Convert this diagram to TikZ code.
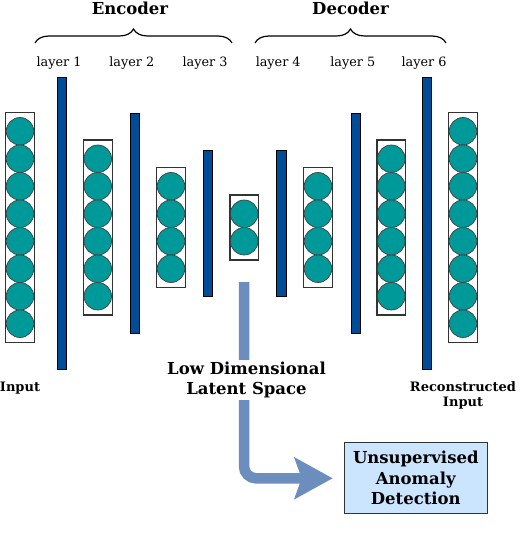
\documentclass[tikz,border=0pt]{standalone}
\usepackage{fontspec}
\setmainfont{DejaVu Serif}
\usetikzlibrary{arrows.meta,decorations.pathreplacing}
\definecolor{barblue}{RGB}{0,76,153}
\definecolor{unitteal}{RGB}{0,153,153}
\definecolor{flowblue}{RGB}{108,142,191}
\definecolor{detfill}{RGB}{204,229,255}
\begin{document}
\begin{tikzpicture}[x=1pt,y=-1pt,
  every node/.style={font=\fontsize{12.8}{15}\selectfont},
  bigtext/.style={font=\fontsize{16.5}{20.5}\selectfont\bfseries,align=center},
  midtext/.style={font=\fontsize{13}{15}\selectfont\bfseries,align=center},
  unitbox/.style={draw=black!80,line width=1.2pt,minimum width=28.6pt,inner sep=0pt},
  unit/.style={draw=black!75,line width=0.7pt,circle,fill=unitteal,minimum size=27.5pt,inner sep=0pt},
  weightbar/.style={draw=black,line width=0.6pt,fill=barblue,minimum width=9.5pt,inner sep=0pt},
  layerbrace/.style={decorate,decoration={brace,amplitude=14pt},line width=1.2pt}]
\useasboundingbox (0,0) rectangle (520,548);
% unit columns
\foreach \name/\x/\n in {in/20/8,h1/97.8/6,h2/171/4,lat/244.2/2,h3/318/4,h4/391.3/6,out/463/8} {
  \pgfmathsetmacro\boxh{\n*27.5+10}
  \node[unitbox,minimum height=\boxh pt] (\name) at (\x,227.5) {};
  \foreach \k in {1,...,\n} {
    \pgfmathsetmacro\yk{227.5-\n*27.5/2+(\k-0.5)*27.5}
    \node[unit] (\name-\k) at (\x,\yk) {};
  }
}
% weight layers
\foreach \name/\x/\h/\lab in {l1/62/292.5/1,l2/134.8/220/2,l3/208/146.7/3,l4/281.2/146.7/4,l5/355.8/220/5,l6/427/292.5/6} {
  \node[weightbar,minimum height=\h pt] (\name) at (\x,223.3) {};
  \node (\name-lab) at (\x-3,63) {layer \lab};
}
% braces
\draw[layerbrace] (35,43) -- (232,43);
\draw[layerbrace] (255,43) -- (446,43);
\node[bigtext] (enc) at (130,8.5) {Encoder};
\node[bigtext] (dec) at (350.5,8.5) {Decoder};
% in / out labels
\node[midtext] (inlab) at (20,388) {Input};
\node[midtext] (outlab) at (463,395.5) {Reconstructed\\Input};
% latent path
\node[draw=black!80,line width=1.2pt,fill=detfill,bigtext,minimum width=143pt,minimum height=71pt,inner sep=0pt] (det) at (415.8,478.3) {Unsupervised\\Anomaly\\Detection};
\coordinate (arrowtop) at (244,282);
\draw[flowblue,line width=10.5pt,rounded corners=12pt,shorten >=11pt,-{Stealth[length=38pt,width=41pt,inset=7pt]}] (arrowtop) |- (det.west);
\node[bigtext,fill=white,inner sep=2pt] (latlab) at (246.5,380) {Low Dimensional\\Latent Space};
\end{tikzpicture}
\end{document}
